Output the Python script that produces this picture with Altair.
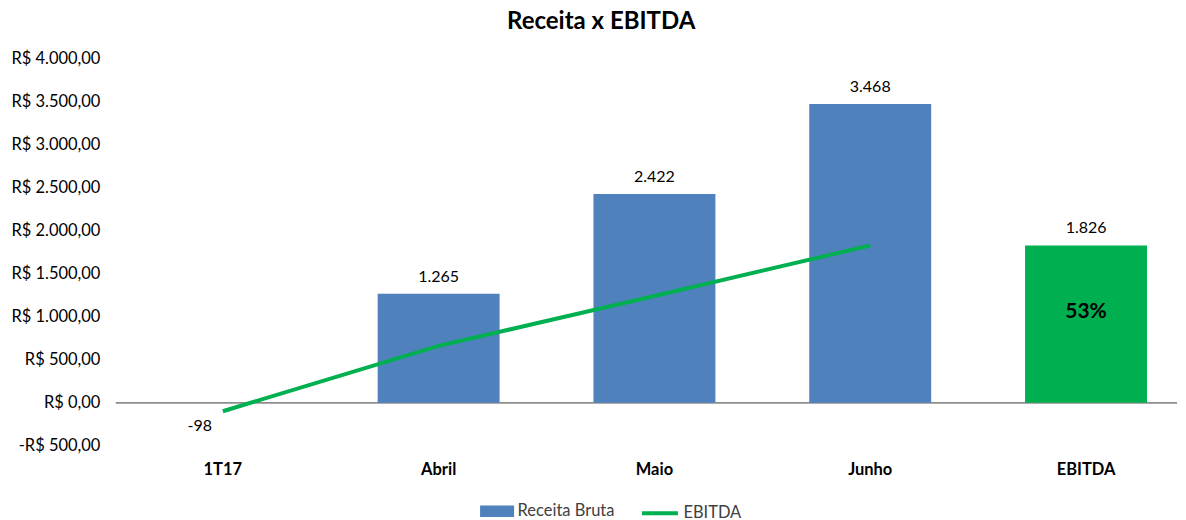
import altair as alt
import pandas as pd

categorias = ["1T17", "Abril", "Maio", "Junho", "EBITDA"]

barra_cat = ["Abril", "Maio", "Junho", "EBITDA"]
barra_valor = [1265, 2422, 3468, 1826]
barra_serie = ["Receita Bruta", "Receita Bruta", "Receita Bruta", "EBITDA"]

linha_cat = ["1T17", "Abril", "Maio", "Junho"]
linha_valor = [-98, 660, 1240, 1826]

margem_ebitda = "53%"

FONT = "Lato"
AZUL = "#4F81BD"
VERDE = "#00B050"

df_bar = pd.DataFrame({"cat": barra_cat, "valor": barra_valor, "serie": barra_serie})
df_line = pd.DataFrame({"cat": linha_cat, "valor": linha_valor, "serie": ["EBITDA"] * len(linha_cat)})

y_label_expr = ("(datum.value < 0 ? '-' : '') + 'R$ ' + "
                "replace(replace(replace(format(abs(datum.value), ',.2f'), ',', '#'), '.', ','), '#', '.')")

y_scale = alt.Scale(domain=[-500, 4000], nice=False, zero=False)
y_axis = alt.Axis(title=None, domain=False, ticks=False, grid=False,
                  values=list(range(-500, 4001, 500)), labelExpr=y_label_expr,
                  labelFont=FONT, labelFontSize=16.5, labelColor="#000000",
                  labelPadding=16)

X = alt.X("cat:N", sort=categorias,
          scale=alt.Scale(domain=categorias, paddingInner=0.435, paddingOuter=0.176, align=0.605),
          axis=alt.Axis(title=None, domain=False, ticks=False, labelAngle=0,
                        labelFont=FONT, labelFontSize=16.5, labelFontWeight="bold",
                        labelColor="#000000", labelPadding=16))
Y = alt.Y("valor:Q", scale=y_scale, axis=y_axis)

legend_bar = alt.Legend(
    title=None, orient="none", legendX=370, legendY=442, direction="horizontal",
    labelFont=FONT, labelFontSize=16.5, labelColor="#404040", labelOffset=9,
    symbolType="M-1.5,-0.5H1.5V0.5H-1.5Z", symbolSize=515, symbolStrokeWidth=0)
legend_line = alt.Legend(
    title=None, orient="none", legendX=524, legendY=435, direction="horizontal",
    labelFont=FONT, labelFontSize=16.5, labelColor="#404040", labelOffset=3,
    symbolType="stroke", symbolSize=1300, symbolStrokeWidth=4)

base_bar = alt.Chart(df_bar)

bars_receita = base_bar.mark_bar().encode(
    x=X, y=Y,
    color=alt.Color("serie:N", scale=alt.Scale(domain=["Receita Bruta"], range=[AZUL]), legend=legend_bar),
).transform_filter("datum.serie == 'Receita Bruta'")

bar_ebitda = base_bar.mark_bar(color=VERDE).encode(x=X, y=Y).transform_filter("datum.serie == 'EBITDA'")

bar_labels = base_bar.mark_text(dy=-17, font=FONT, fontSize=16, color="#000000").encode(
    x=X, y=Y,
    text=alt.Text("rotulo:N"),
).transform_calculate(rotulo="replace(format(datum.valor, ','), ',', '.')")

pct_label = base_bar.mark_text(dy=-12, font=FONT, fontSize=21, fontWeight="bold", color="#000000").encode(
    x=X, y=alt.Y("meio:Q", scale=y_scale, axis=y_axis),
    text=alt.value(margem_ebitda),
).transform_filter("datum.serie == 'EBITDA'").transform_calculate(meio="datum.valor / 2")

zero_rule = alt.Chart(df_line).mark_rule(color="#8C8C8C", strokeWidth=1).encode(
    y=alt.Y(datum=0, scale=y_scale, axis=y_axis))

line = alt.Chart(df_line).mark_line(strokeWidth=4).encode(
    x=X, y=Y,
    stroke=alt.Stroke("serie:N", scale=alt.Scale(domain=["EBITDA"], range=[VERDE]), legend=legend_line),
)

line_label = alt.Chart(df_line).mark_text(dx=-23, dy=15, font=FONT, fontSize=16, color="#000000").encode(
    x=X, y=Y, text=alt.Text("rotulo:N"),
).transform_filter("datum.valor < 0").transform_calculate(rotulo="'' + datum.valor")

chart = alt.layer(
    zero_rule, bars_receita, bar_ebitda, line, bar_labels, pct_label, line_label
).properties(
    width=1062, height=388,
    title=alt.TitleParams("Receita x EBITDA", font=FONT, fontSize=24, fontWeight="bold",
                          color="#000000", anchor="middle", frame="bounds", offset=16, dx=7),
    padding={"left": 2, "right": 0, "top": 2, "bottom": 0},
).configure_view(stroke=None)

chart.save("out.html", embed_options={"renderer": "svg", "actions": False})
